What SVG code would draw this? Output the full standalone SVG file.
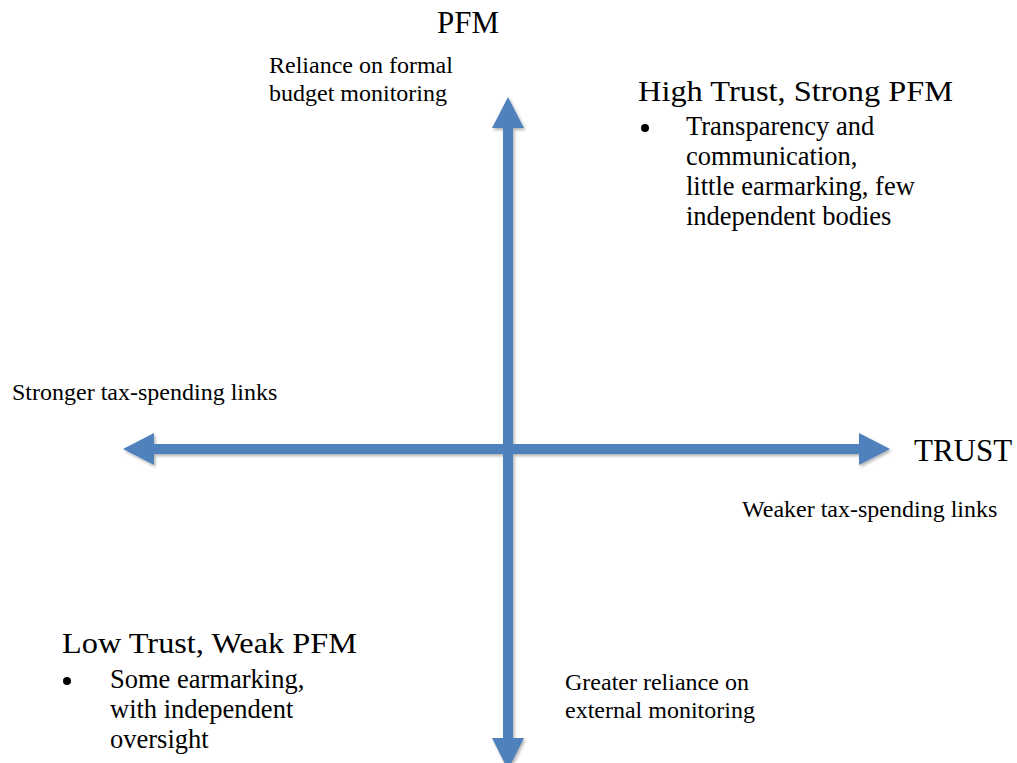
<svg xmlns="http://www.w3.org/2000/svg" width="1017" height="763" viewBox="0 0 1017 763">
<style>
  .ax { fill: #4F81BD; }
  .lbl { font-family: "Liberation Serif", "Times New Roman", serif; font-size: 24px; fill: #000; }
  .axis { font-family: "Liberation Serif", "Times New Roman", serif; font-size: 31px; fill: #000; }
  .head { font-family: "Liberation Serif", "Times New Roman", serif; font-size: 30px; fill: #000; }
  .bul { font-family: "Liberation Serif", "Times New Roman", serif; font-size: 26.5px; fill: #000; }
</style>
<defs>
  <filter id="sh" x="-10%" y="-10%" width="120%" height="120%">
    <feDropShadow dx="1.5" dy="2" stdDeviation="1.5" flood-color="#000" flood-opacity="0.3"/>
  </filter>
</defs>
<rect width="1017" height="763" fill="#fff"/>
<g id="connectors" filter="url(#sh)">
  <polygon class="ax" points="123,449 154,433 154,444 859,444 859,433 890,449 859,465 859,454 154,454 154,465"/>
  <polygon class="ax" points="508,97 524,128 513,128 513,738 524,738 508,770 492,738 503,738 503,128 492,128"/>
</g>
<g id="pfm-axis"><text class="axis" x="437" y="33">PFM</text></g>
<g id="trust-axis"><text class="axis" x="914" y="461">TRUST</text></g>
<g id="pfm-top-label">
  <text class="lbl" x="269" y="73">Reliance on formal</text>
  <text class="lbl" x="269" y="101">budget monitoring</text>
</g>
<g id="pfm-bottom-label">
  <text class="lbl" x="565" y="690">Greater reliance on</text>
  <text class="lbl" x="565" y="718">external monitoring</text>
</g>
<g id="trust-left-label"><text class="lbl" x="12" y="400">Stronger tax-spending links</text></g>
<g id="trust-right-label"><text class="lbl" x="742" y="517">Weaker tax-spending links</text></g>
<g id="high-trust">
  <text class="head" x="638" y="101" textLength="315" lengthAdjust="spacingAndGlyphs">High Trust, Strong PFM</text>
  <circle cx="645" cy="128" r="4"/>
  <text class="bul" x="686" y="135">Transparency and</text>
  <text class="bul" x="686" y="165">communication,</text>
  <text class="bul" x="686" y="195">little earmarking, few</text>
  <text class="bul" x="686" y="225">independent bodies</text>
</g>
<g id="low-trust">
  <text class="head" x="62" y="653" textLength="295" lengthAdjust="spacingAndGlyphs">Low Trust, Weak PFM</text>
  <circle cx="67" cy="681" r="4"/>
  <text class="bul" x="110" y="688">Some earmarking,</text>
  <text class="bul" x="110" y="718">with independent</text>
  <text class="bul" x="110" y="748">oversight</text>
</g>
</svg>
